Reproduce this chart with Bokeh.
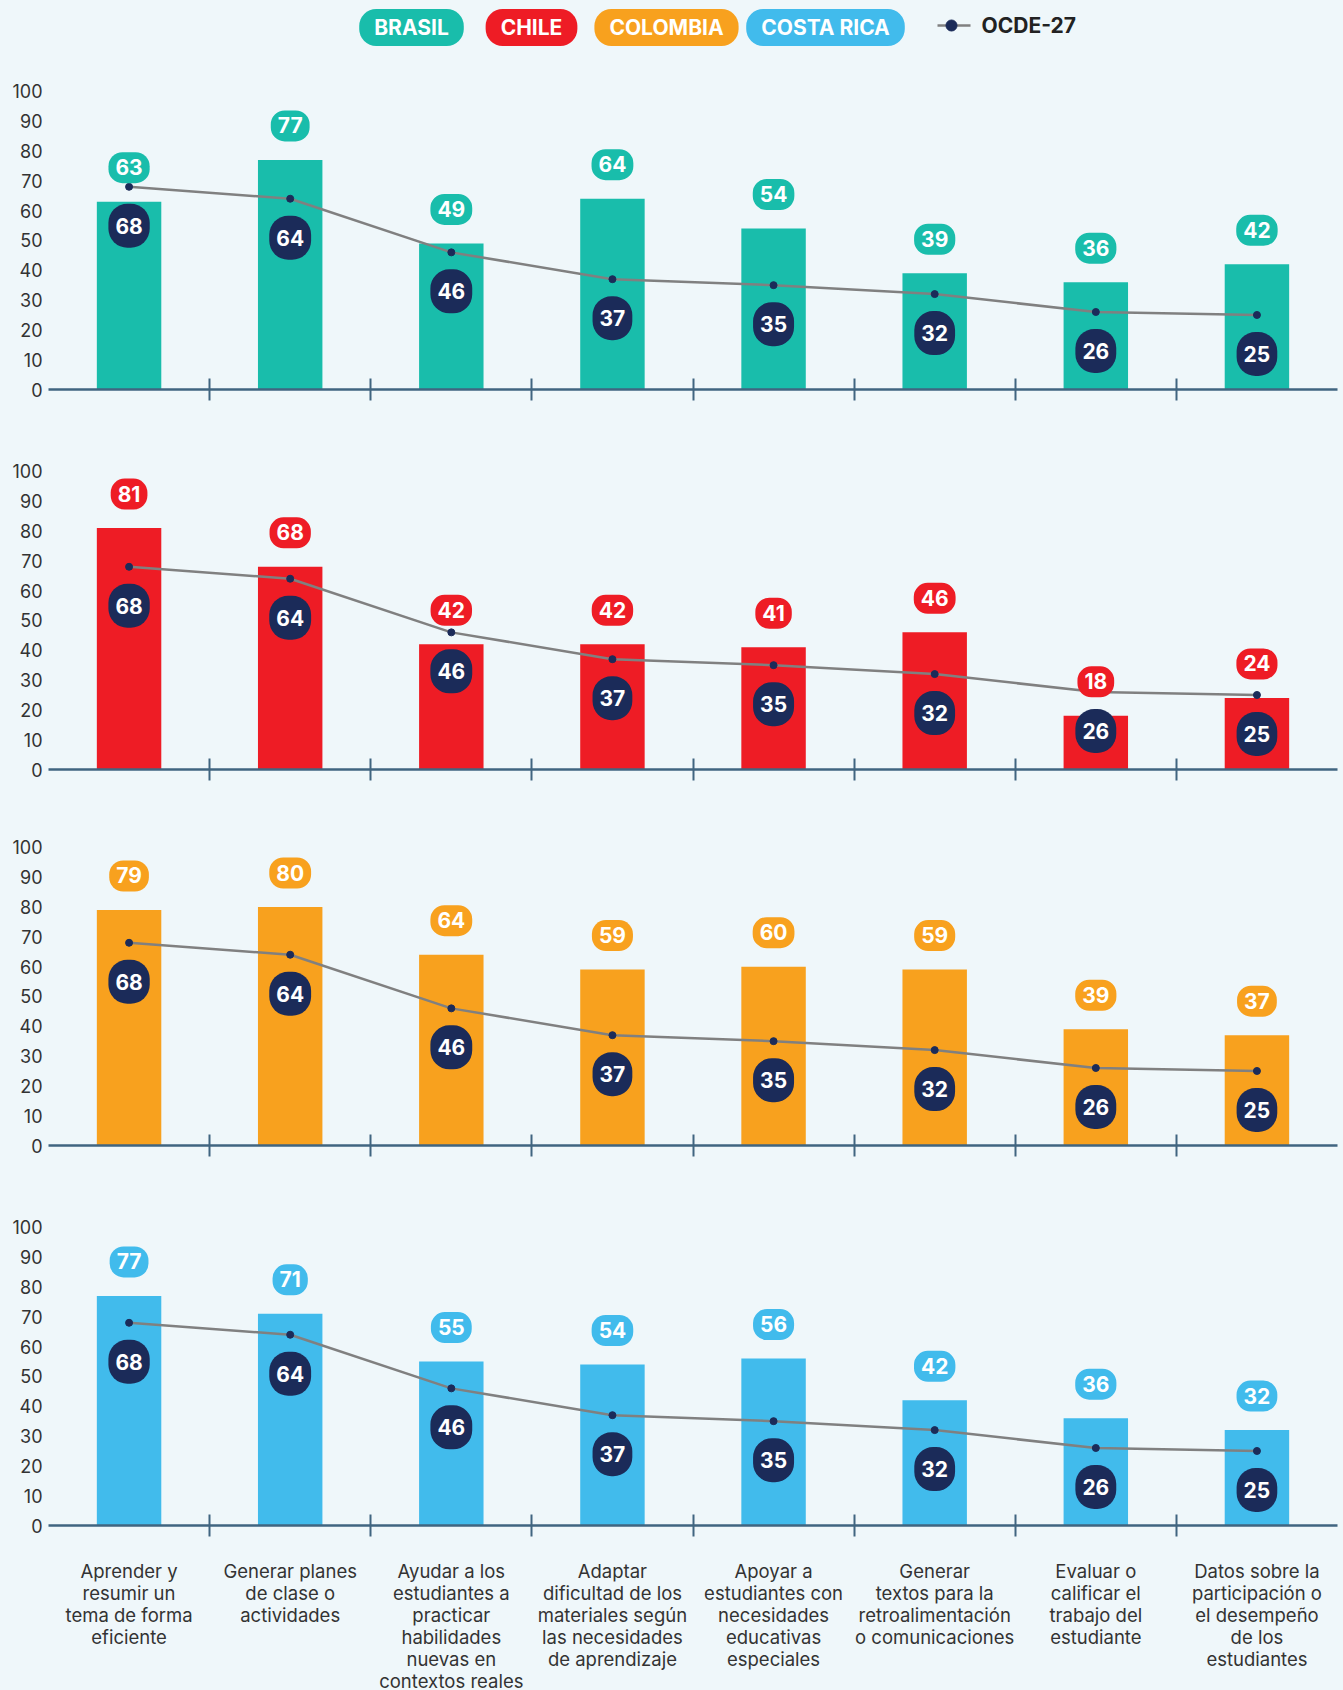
from bokeh.plotting import figure
from bokeh.layouts import column
from bokeh.models import Range1d, FixedTicker, ColumnDataSource
from bokeh.core.properties import value
from bokeh.embed import file_html
from bokeh.resources import INLINE

# ---------------- data ----------------
categories = [
    "Aprender y\nresumir un\ntema de forma\neficiente",
    "Generar planes\nde clase o\nactividades",
    "Ayudar a los\nestudiantes a\npracticar\nhabilidades\nnuevas en\ncontextos reales",
    "Adaptar\ndificultad de los\nmateriales según\nlas necesidades\nde aprendizaje",
    "Apoyar a\nestudiantes con\nnecesidades\neducativas\nespeciales",
    "Generar\ntextos para la\nretroalimentación\no comunicaciones",
    "Evaluar o\ncalificar el\ntrabajo del\nestudiante",
    "Datos sobre la\nparticipación o\nel desempeño\nde los\nestudiantes",
]
countries = ["BRASIL", "CHILE", "COLOMBIA", "COSTA RICA"]
brasil = [63, 77, 49, 64, 54, 39, 36, 42]
chile = [81, 68, 42, 42, 41, 46, 18, 24]
colombia = [79, 80, 64, 59, 60, 59, 39, 37]
costa_rica = [77, 71, 55, 54, 56, 42, 36, 32]
ocde = [68, 64, 46, 37, 35, 32, 26, 25]
ocde_label = "OCDE-27"
y_ticks = [0, 10, 20, 30, 40, 50, 60, 70, 80, 90, 100]

# ---------------- style ----------------
BG = "#eff7fa"
NAVY = "#1b2b59"
AXIS = "#406580"
GRAY = "#808080"
TXT = "#333333"
colors = ["#19bdab", "#ee1c25", "#f8a11e", "#41bbec"]
FONT = "Inter"
W = 1343
LEFT = 48
RIGHT = 6

series = [brasil, chile, colombia, costa_rica]
xs = list(range(1, len(categories) + 1))


def style(p):
    p.background_fill_color = BG
    p.border_fill_color = BG
    p.outline_line_color = None
    p.xgrid.visible = False
    p.ygrid.visible = False


# ---------------- legend ----------------
leg = figure(width=W, height=56, output_backend="svg", toolbar_location=None,
             x_range=Range1d(LEFT, W - RIGHT), y_range=Range1d(56, 0),
             x_axis_location=None, y_axis_location=None,
             min_border_left=LEFT, min_border_right=RIGHT, min_border_top=0, min_border_bottom=0)
style(leg)
leg_src = ColumnDataSource(dict(x=[411, 531, 666, 825], y=[27] * 4, t=countries, c=colors))
leg.text(x="x", y="y", text="t", source=leg_src, text_color="white",
         text_font=value(FONT), text_font_style="bold", text_font_size="21px",
         text_align="center", text_baseline="middle",
         background_fill_color="c", border_radius=17,
         padding=dict(left=15, right=15, top=6, bottom=6))
leg.line(x=[937, 970], y=[25, 25], line_color=GRAY, line_width=2.5)
leg.scatter(x=[951], y=[25], size=11, fill_color=NAVY, line_color=NAVY)
leg.text(x=[981], y=[25], text=[ocde_label], text_color="#222222",
         text_font=value(FONT), text_font_style="bold", text_font_size="21px",
         text_align="left", text_baseline="middle")

# ---------------- panels ----------------
FRAME = 316
YMAX = 106
bottoms = [47, 43, 47, 30]
panels = []
for i, vals in enumerate(series):
    col = colors[i]
    p = figure(width=W, height=17 + FRAME + bottoms[i], output_backend="svg",
               toolbar_location=None, x_range=Range1d(0.5, len(categories) + 0.5),
               y_range=Range1d(0, YMAX), min_border_left=LEFT, min_border_right=RIGHT,
               min_border_top=17, min_border_bottom=bottoms[i])
    style(p)
    src = ColumnDataSource(dict(x=xs, v=vals, o=ocde,
                                vs=[str(v) for v in vals], os=[str(v) for v in ocde]))
    p.vbar(x="x", top="v", width=0.4, bottom=0, source=src, fill_color=col, line_color=None)
    p.line(x="x", y="o", source=src, line_color=GRAY, line_width=2.5)
    p.scatter(x="x", y="o", source=src, size=7, fill_color=NAVY, line_color=NAVY)
    p.text(x="x", y="o", text="os", source=src, y_offset=39, text_color="white",
           text_font=value(FONT), text_font_style="bold", text_font_size="21px",
           text_align="center", text_baseline="middle",
           background_fill_color=NAVY, border_radius=19,
           padding=dict(left=7, right=7, top=14, bottom=14))
    p.text(x="x", y="v", text="vs", source=src, y_offset=-34, text_color="white",
           text_font=value(FONT), text_font_style="bold", text_font_size="21px",
           text_align="center", text_baseline="middle",
           background_fill_color=col, border_radius=14,
           padding=dict(left=7, right=7, top=7, bottom=8))
    # y axis
    ya = p.yaxis[0]
    ya.ticker = FixedTicker(ticks=y_ticks)
    ya.axis_line_color = None
    ya.major_tick_line_color = None
    ya.minor_tick_line_color = None
    ya.major_tick_out = 0
    ya.major_tick_in = 0
    ya.major_label_standoff = 6
    ya.major_label_text_font = FONT
    ya.major_label_text_font_size = "18px"
    ya.major_label_text_color = TXT
    # x axis
    bounds = [k + 0.5 for k in xs[:-1]]
    xa = p.xaxis[0]
    xa.ticker = FixedTicker(ticks=bounds)
    xa.major_label_overrides = {b: "" for b in bounds}
    xa.axis_line_color = AXIS
    xa.axis_line_width = 2.5
    xa.major_tick_line_color = AXIS
    xa.major_tick_line_width = 2
    xa.major_tick_in = 11
    xa.major_tick_out = 11
    xa.minor_tick_line_color = None
    xa.major_label_standoff = 0
    panels.append(p)

# ---------------- category labels ----------------
LAB_H = 135
lab = figure(width=W, height=LAB_H, output_backend="svg", toolbar_location=None,
             x_range=Range1d(0.5, len(categories) + 0.5), y_range=Range1d(0, LAB_H),
             x_axis_location=None, y_axis_location=None,
             min_border_left=LEFT, min_border_right=RIGHT, min_border_top=0, min_border_bottom=0)
style(lab)
lab.text(x=xs, y=[LAB_H - 4] * len(xs), text=categories, text_color=TXT,
         text_font=value(FONT), text_font_size="18.5px", text_align="center",
         text_baseline="top", text_line_height=1.0)

layout = column([leg] + panels + [lab], spacing=0)

open("out.html", "w").write(
    file_html(layout, INLINE).replace("<body>", '<body style="background:%s">' % BG))
